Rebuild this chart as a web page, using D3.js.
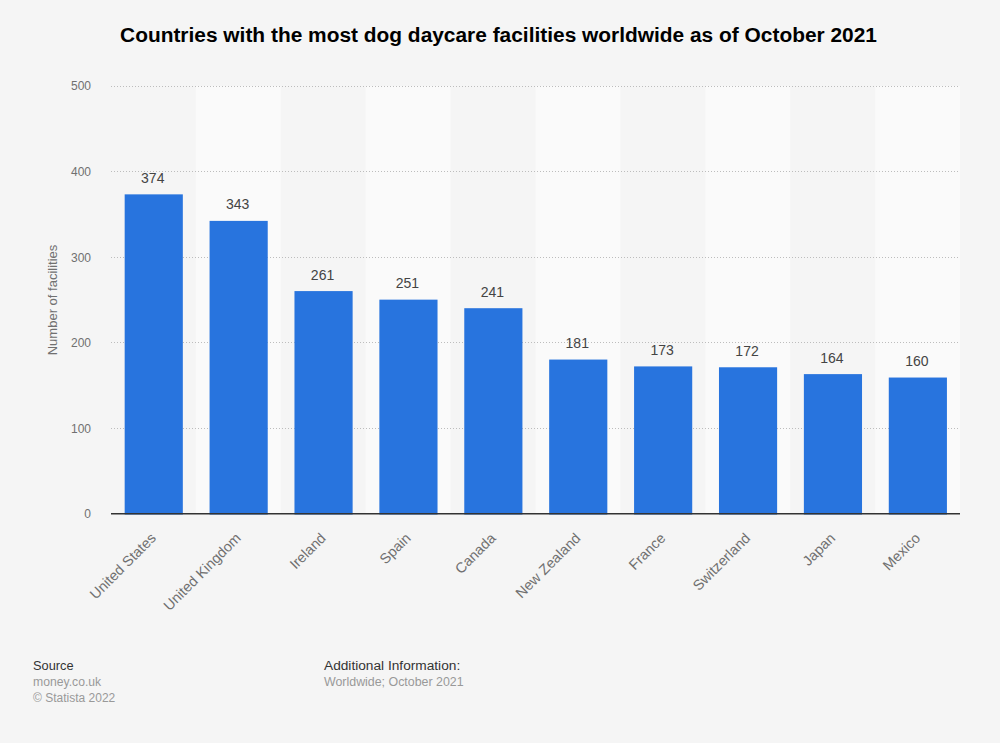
<!DOCTYPE html>
<html>
<head>
<meta charset="utf-8">
<script src="https://cdn.jsdelivr.net/npm/d3@7"></script>
<style>
  html, body { margin: 0; padding: 0; background: #f5f5f5; }
  svg { display: block; font-family: "Liberation Sans", Arial, sans-serif; }
</style>
</head>
<body>
<svg width="1000" height="743"></svg>
<script>
const countries = ["United States", "United Kingdom", "Ireland", "Spain", "Canada",
    "New Zealand", "France", "Switzerland", "Japan", "Mexico"];
const facilities = [374, 343, 261, 251, 241, 181, 173, 172, 164, 160];
const yTicks = [0, 100, 200, 300, 400, 500];

const svg = d3.select("svg");

const xScale = d3.scaleBand()
    .domain(countries)
    .range([111, 960])
    .paddingInner(0);

const yScale = d3.scaleLinear()
    .domain([0, 500])
    .range([514.5, 86.5]);

const barWidth = xScale.bandwidth() * 0.685;

svg.append("text")
    .attr("x", 498.5)
    .attr("y", 42)
    .attr("text-anchor", "middle")
    .attr("font-size", "20.9px")
    .attr("font-weight", "bold")
    .attr("fill", "#000")
    .text("Countries with the most dog daycare facilities worldwide as of October 2021");

// lighter stripe behind every other category
svg.selectAll("rect.stripe")
    .data(countries.filter((d, i) => i % 2 === 1))
    .join("rect")
    .attr("class", "stripe")
    .attr("x", d => xScale(d))
    .attr("y", yScale(500) - 0.5)
    .attr("width", xScale.bandwidth())
    .attr("height", yScale(0) - yScale(500))
    .attr("fill", "#fafafa");

const yAxis = d3.axisLeft(yScale)
    .tickValues(yTicks)
    .tickSize(0)
    .tickPadding(20);

const yAxisG = svg.append("g")
    .attr("class", "y-axis")
    .attr("transform", "translate(111,-0.5)")
    .call(yAxis);

yAxisG.select(".domain").remove();
yAxisG.selectAll("text")
    .attr("font-family", "'Liberation Sans', Arial, sans-serif")
    .attr("font-size", "12px")
    .attr("fill", "#707070");

svg.selectAll("line.grid")
    .data(yTicks.filter(d => d > 0))
    .join("line")
    .attr("class", "grid")
    .attr("x1", 111)
    .attr("x2", 960)
    .attr("y1", d => Math.round(yScale(d)) - 0.5)
    .attr("y2", d => Math.round(yScale(d)) - 0.5)
    .attr("stroke", "#bdbdbd")
    .attr("stroke-dasharray", "1,2");

svg.append("text")
    .attr("transform", "translate(57,300) rotate(-90)")
    .attr("text-anchor", "middle")
    .attr("font-size", "13px")
    .attr("fill", "#707070")
    .text("Number of facilities");

svg.selectAll("rect.bar")
    .data(countries)
    .join("rect")
    .attr("class", "bar")
    .attr("x", d => xScale(d) + (xScale.bandwidth() - barWidth) / 2 + 0.3)
    .attr("y", (d, i) => yScale(facilities[i]))
    .attr("width", barWidth)
    .attr("height", (d, i) => yScale(0) - yScale(facilities[i]))
    .attr("fill", "#2874de");

svg.selectAll("text.value")
    .data(countries)
    .join("text")
    .attr("class", "value")
    .attr("x", d => xScale(d) + xScale.bandwidth() / 2 - 0.7)
    .attr("y", (d, i) => yScale(facilities[i]) - 11.5)
    .attr("text-anchor", "middle")
    .attr("font-size", "14px")
    .attr("fill", "#444")
    .text((d, i) => facilities[i]);

svg.append("line")
    .attr("x1", 111)
    .attr("x2", 960)
    .attr("y1", yScale(0) - 0.7)
    .attr("y2", yScale(0) - 0.7)
    .attr("stroke", "#333")
    .attr("stroke-width", 1.5);

// rotated category labels, end anchored just under the axis
svg.selectAll("text.cat")
    .data(countries)
    .join("text")
    .attr("class", "cat")
    .attr("transform", d => `translate(${xScale(d) + xScale.bandwidth() / 2 + 3.5},${539}) rotate(-45)`)
    .attr("text-anchor", "end")
    .attr("font-size", "14.4px")
    .attr("fill", "#707070")
    .text(d => d);

const footer = svg.append("g");
footer.append("text").attr("x", 33).attr("y", 670).attr("font-size", "12.8px").attr("fill", "#333").text("Source");
footer.append("text").attr("x", 33).attr("y", 686).attr("font-size", "12.2px").attr("fill", "#999").text("money.co.uk");
footer.append("text").attr("x", 33).attr("y", 702).attr("font-size", "12px").attr("fill", "#999").text("© Statista 2022");
footer.append("text").attr("x", 324).attr("y", 670).attr("font-size", "13.7px").attr("fill", "#333").text("Additional Information:");
footer.append("text").attr("x", 324).attr("y", 686).attr("font-size", "12.4px").attr("fill", "#999").text("Worldwide; October 2021");
</script>
</body>
</html>
